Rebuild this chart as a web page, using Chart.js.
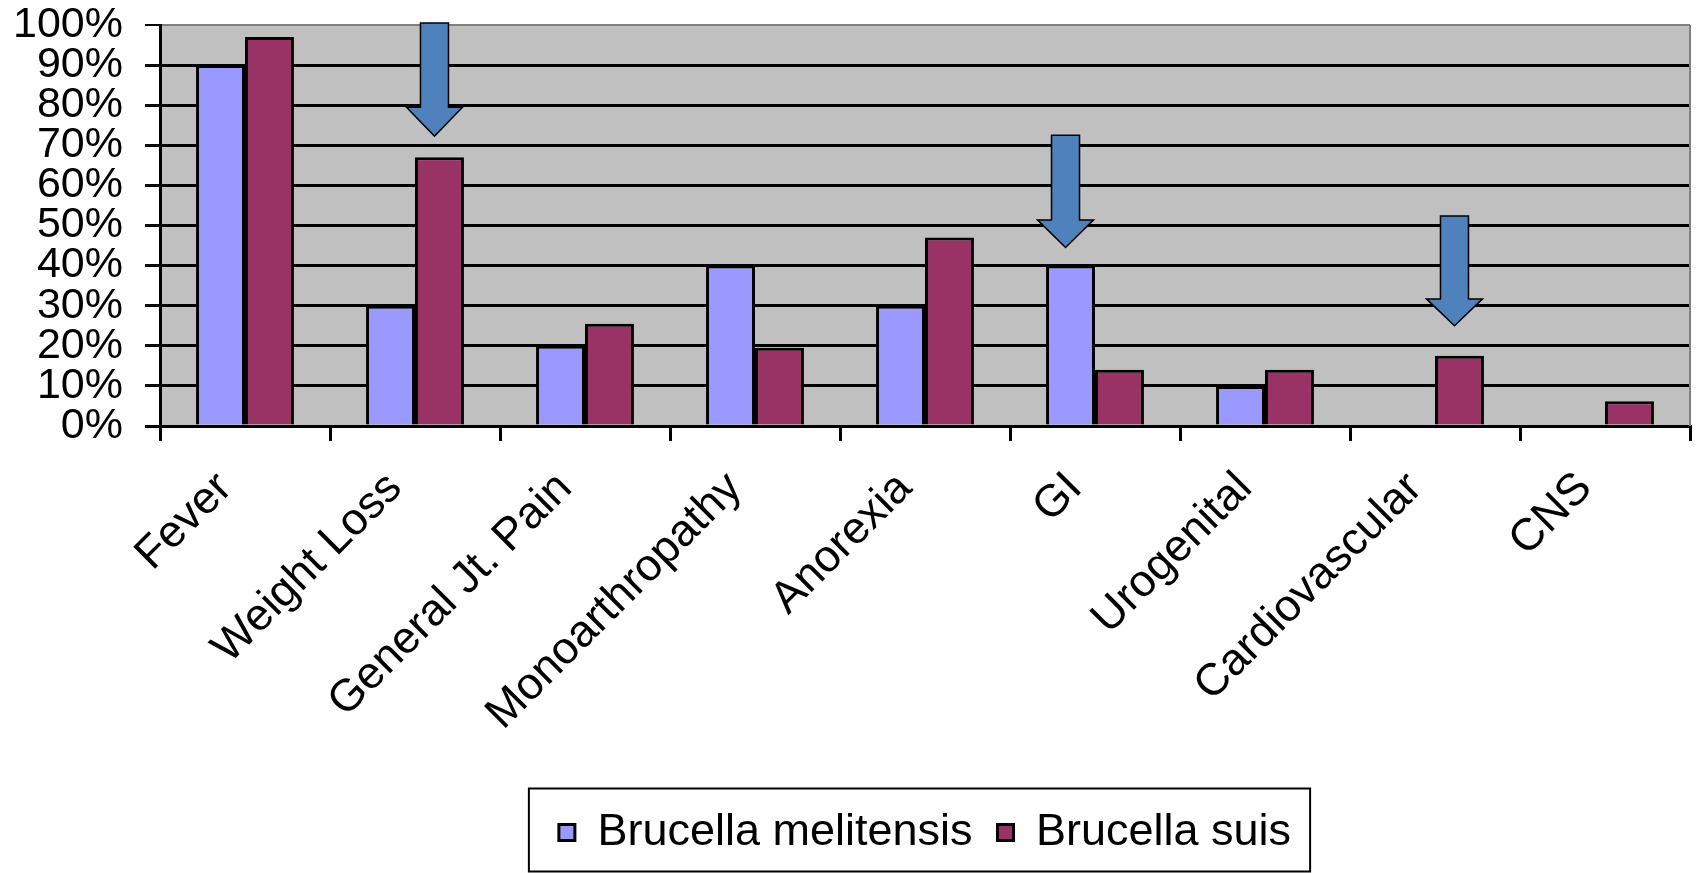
<!DOCTYPE html>
<html lang="en">
<head>
  <meta charset="UTF-8" />
  <title>Brucella symptoms</title>
  <script src="https://cdn.jsdelivr.net/npm/chart.js"></script>
  <style>
    body { margin: 0; background: #fff; }
    #wrap { width: 1700px; height: 873px; }
  </style>
</head>
<body>
  <div id="wrap"><canvas id="grafico" width="1700" height="873"></canvas></div>
  <script>
    const categories = ['Fever', 'Weight Loss', 'General Jt. Pain', 'Monoarthropathy', 'Anorexia', 'GI', 'Urogenital', 'Cardiovascular', 'CNS'];
    const melitensis = [90, 30, 20, 40, 30, 40, 10, 0, 0];
    const suis = [97, 67, 25.5, 19.5, 47, 14, 14, 17.5, 6.2];
    const seriesNames = ['Brucella melitensis', 'Brucella suis'];

    // arrows: which bar they sit over, and tail / head base / tip values in %
    const arrowCategory = ['Weight Loss', 'GI', 'Cardiovascular'];
    const arrowSeries = [1, 0, 1];
    const arrowTail = [100.5, 72.5, 52.4];
    const arrowHead = [79.5, 51.4, 31.7];
    const arrowTip = [72.3, 44.5, 25];

    const FONT = 'Arial, "Liberation Sans", sans-serif';
    const LABEL_SIZE = 45;
    const LEGEND_PAD = 25;
    const LEGEND_H = LABEL_SIZE + LEGEND_PAD + 10;
    const PLOT_BOTTOM = 426;
    const PAD_BOTTOM = 8;

    const plotBg = {
      id: 'plotBg',
      beforeDraw(chart) {
        const { ctx, chartArea: a } = chart;
        ctx.save();
        ctx.fillStyle = '#C0C0C0';
        ctx.fillRect(a.left, a.top, a.right - a.left, a.bottom - a.top);
        ctx.restore();
      },
      beforeDatasetsDraw(chart) {
        const { ctx, chartArea: a } = chart;
        ctx.save();
        ctx.strokeStyle = '#808080';
        ctx.lineWidth = 2;
        ctx.beginPath();
        ctx.moveTo(a.right, a.top);
        ctx.lineTo(a.right, a.bottom);
        ctx.stroke();
        ctx.restore();
      }
    };

    const arrows = {
      id: 'arrows',
      afterDatasetsDraw(chart) {
        const { ctx } = chart;
        const y = chart.scales.y;
        arrowCategory.forEach((cat, k) => {
          const bar = chart.getDatasetMeta(arrowSeries[k]).data[categories.indexOf(cat)];
          const cx = bar.x - 5;
          const yTail = y.getPixelForValue(arrowTail[k]);
          const yHead = y.getPixelForValue(arrowHead[k]);
          const yTip = y.getPixelForValue(arrowTip[k]);
          const sw = 14, hw = 28;
          ctx.save();
          ctx.beginPath();
          ctx.moveTo(cx - sw, yTail);
          ctx.lineTo(cx + sw, yTail);
          ctx.lineTo(cx + sw, yHead);
          ctx.lineTo(cx + hw, yHead);
          ctx.lineTo(cx, yTip);
          ctx.lineTo(cx - hw, yHead);
          ctx.lineTo(cx - sw, yHead);
          ctx.closePath();
          ctx.fillStyle = '#4F81BD';
          ctx.fill();
          ctx.strokeStyle = '#000';
          ctx.lineWidth = 1.5;
          ctx.stroke();
          ctx.restore();
        });
      }
    };

    // frame around the legend items
    const legendFrame = {
      id: 'legendFrame',
      afterDraw(chart) {
        const boxes = chart.legend.legendHitBoxes;
        if (!boxes || !boxes.length) return;
        const first = boxes[0], last = boxes[boxes.length - 1];
        const cy = first.top + first.height / 2;
        const { ctx } = chart;
        ctx.save();
        ctx.strokeStyle = '#000';
        ctx.lineWidth = 2;
        ctx.strokeRect(first.left - 30, cy - 44, last.left + last.width + 19 - (first.left - 30), 83);
        ctx.restore();
      }
    };

    new Chart(document.getElementById('grafico'), {
      type: 'bar',
      data: {
        labels: categories,
        datasets: [
          { label: seriesNames[0], data: melitensis, backgroundColor: '#9999FF', borderColor: '#000', borderWidth: 3 },
          { label: seriesNames[1], data: suis, backgroundColor: '#993366', borderColor: '#000', borderWidth: 3 }
        ]
      },
      options: {
        responsive: false,
        animation: false,
        categoryPercentage: 0.576,
        barPercentage: 1,
        layout: { padding: { left: 0, right: 10, top: 25, bottom: PAD_BOTTOM } },
        plugins: {
          tooltip: { enabled: false },
          legend: {
            position: 'bottom',
            fullSize: false,
            labels: {
              color: '#000',
              font: { family: FONT, size: LABEL_SIZE },
              boxWidth: 16,
              boxHeight: 16,
              padding: LEGEND_PAD
            }
          }
        },
        scales: {
          x: {
            afterFit(scale) {
              scale.height = scale.chart.height - PLOT_BOTTOM - LEGEND_H - PAD_BOTTOM;
            },
            grid: { drawOnChartArea: false, tickLength: 15, tickColor: '#000', lineWidth: 3, offset: true },
            border: { color: '#000', width: 3 },
            ticks: {
              color: '#000',
              font: { family: FONT, size: LABEL_SIZE },
              autoSkip: false,
              maxRotation: 45,
              minRotation: 45,
              padding: 21,
              labelOffset: -20
            }
          },
          y: {
            min: 0,
            max: 100,
            afterFit(scale) {
              scale.width = 160;
              // labels may overhang the plot edges, no extra room needed
              scale.paddingTop = 0;
              scale.paddingBottom = 0;
            },
            grid: {
              color: ctx => (ctx.tick && ctx.tick.value === 100 ? '#808080' : '#000'),
              lineWidth: ctx => (ctx.tick && ctx.tick.value === 100 ? 2 : 3),
              tickColor: '#000',
              tickLength: 15
            },
            border: { color: '#000', width: 3 },
            ticks: {
              stepSize: 10,
              autoSkip: false,
              color: '#000',
              font: { family: FONT, size: 43 },
              padding: 22,
              callback: v => v + '%'
            }
          }
        }
      },
      plugins: [plotBg, arrows, legendFrame]
    });
  </script>
</body>
</html>
